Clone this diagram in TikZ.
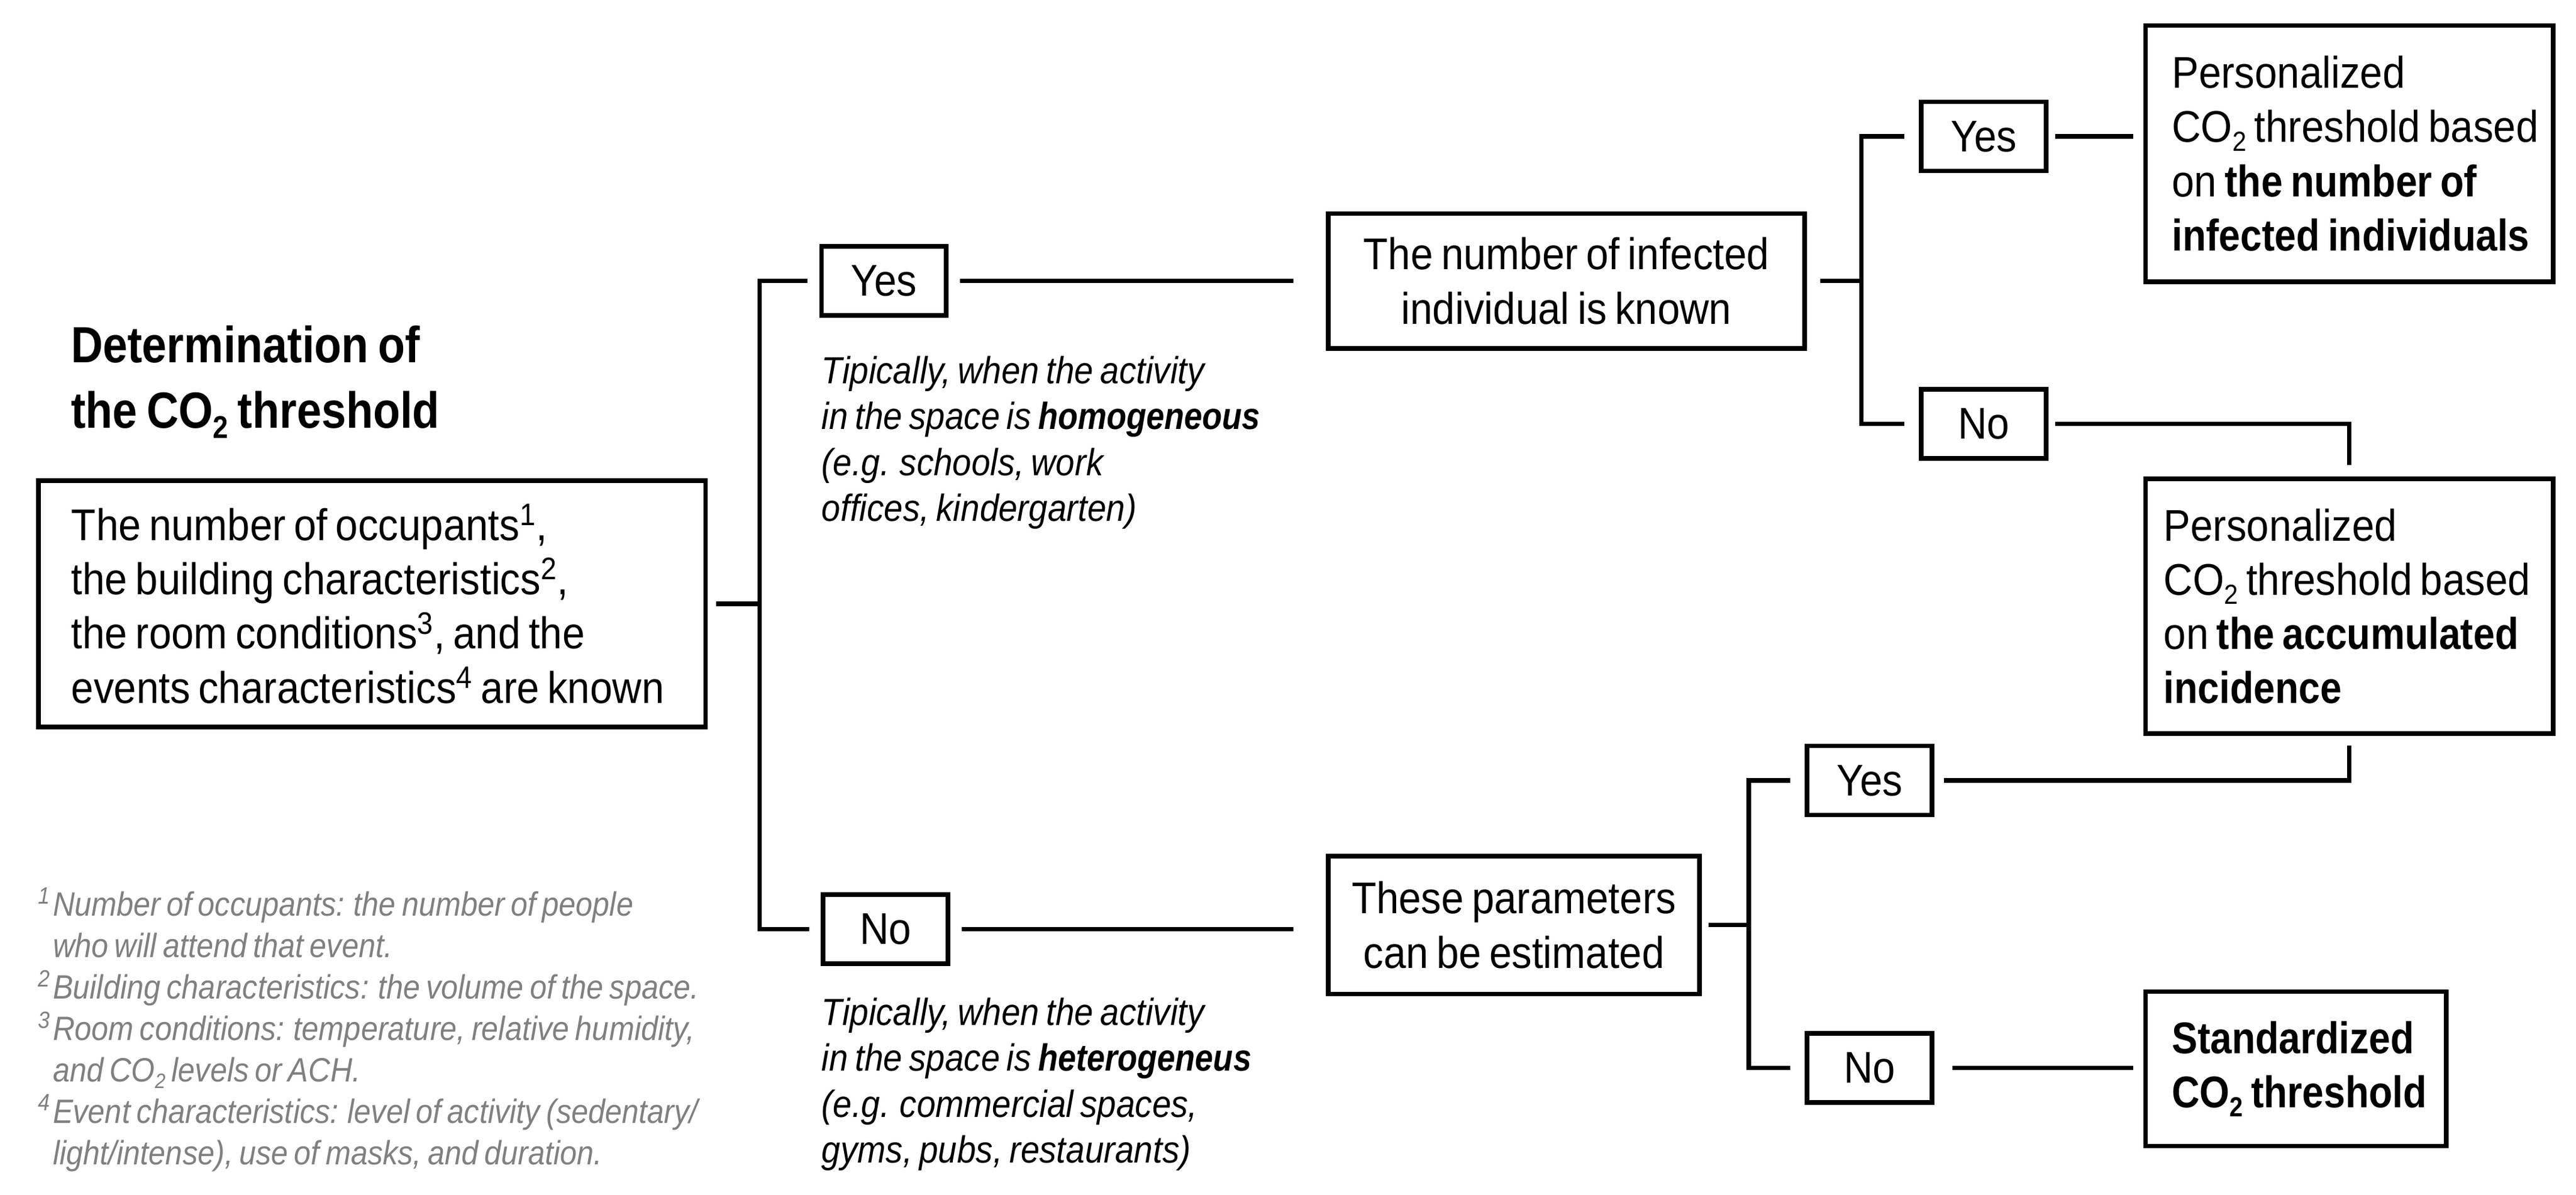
\documentclass[tikz,border=0pt]{standalone}
\usepackage{fontspec}
\setmainfont{Liberation Sans}[UprightFeatures={FakeStretch=0.91},BoldFeatures={FakeStretch=0.87},ItalicFeatures={FakeStretch=0.9},BoldItalicFeatures={FakeStretch=0.86}]
\definecolor{fngray}{RGB}{128,128,128}
\newcommand{\cotwo}{CO\raisebox{-0.38ex}{\fontsize{0.62em}{0.62em}\selectfont 2}}
\newcommand{\fnm}[1]{\makebox[9pt][l]{\textsuperscript{#1}}}
\newcommand{\tightsp}{\spaceskip=0.72\fontdimen2\font plus 0.1\fontdimen2\font\relax}
\newcommand{\mline}[1]{\mbox{\tightsp #1}}
\newcommand{\fbody}{\fontsize{27}{33}\selectfont\tightsp}
\newcommand{\ftitle}{\fontsize{31}{40}\selectfont\tightsp}
\newcommand{\fnote}{\fontsize{23}{28}\selectfont\tightsp}
\newcommand{\ffoot}{\fontsize{20.5}{25.2}\selectfont\tightsp}
\begin{document}
\begin{tikzpicture}[x=1pt,y=-1pt,
  box/.style={draw, line width=2.8pt, inner sep=0pt, font=\fbody},
  yn/.style={box, minimum width=76pt, minimum height=42pt},
  conn/.style={line width=2.8pt},
  ann/.style={inner sep=0pt, anchor=north west, align=left, font=\fnote\itshape}]
\useasboundingbox (0,0) rectangle (1568,727.3);

% title
\node[inner sep=0pt, anchor=north west, align=left, font=\ftitle\bfseries] (title) at (43,198)
  {Determination of\\ the \cotwo{} threshold};

% main box
\node[box, minimum width=406pt, minimum height=150pt, text width=366pt, inner xsep=20pt, align=left] (m) at (226.5,367.5)
  {\mline{The number of occupants\textsuperscript{1},}\\ \mline{the building characteristics\textsuperscript{2},}\\ \mline{the room conditions\textsuperscript{3}, and the}\\ \mline{events characteristics\textsuperscript{4} are known}};

% footnotes
\node[inner sep=0pt, anchor=north west, align=left, font=\ffoot\itshape, text=fngray] (fn) at (23,540)
  {\fnm{1}Number of occupants: the number of people\\
   \fnm{}who will attend that event.\\
   \fnm{2}Building characteristics: the volume of the space.\\
   \fnm{3}Room conditions: temperature, relative humidity,\\
   \fnm{}and \cotwo{} levels or ACH.\\
   \fnm{4}Event characteristics: level of activity (sedentary/\\
   \fnm{}light/intense), use of masks, and duration.};

% first level
\node[yn] (yes1) at (538,171) {Yes};
\node[yn] (no1) at (539,565.5) {No};
\node[ann] (ann1) at (500,216.5)
  {Tipically, when the activity\\ in the space is \textbf{homogeneous}\\ (e.g. schools, work\\ offices, kindergarten)};
\node[ann] (ann2) at (500,607)
  {Tipically, when the activity\\ in the space is \textbf{heterogeneus}\\ (e.g. commercial spaces,\\ gyms, pubs, restaurants)};

% second level
\node[box, minimum width=290pt, minimum height=82pt, align=center] (inf) at (953.5,171)
  {The number of infected\\ individual is known};
\node[box, minimum width=226pt, minimum height=84pt, align=center] (est) at (921.5,563)
  {These parameters\\ can be estimated};

\node[yn] (yes2) at (1207.5,83) {Yes};
\node[yn] (no2) at (1207.5,258) {No};
\node[yn] (yes3) at (1138,475) {Yes};
\node[yn] (no3) at (1138,650) {No};

% results
\node[box, minimum height=156pt, text width=216pt, inner xsep=16pt, align=left] (pers1) at (1430,93.5)
  {\mline{Personalized}\\ \mline{\cotwo{} threshold based}\\ \mline{on \textbf{the number of}}\\ \mline{\textbf{infected individuals}}};
\node[box, minimum height=155pt, text width=226pt, inner xsep=11pt, align=left] (pers2) at (1430,369)
  {\mline{Personalized}\\ \mline{\cotwo{} threshold based}\\ \mline{on \textbf{the accumulated}}\\ \mline{\textbf{incidence}}};
\node[box, minimum height=94pt, text width=151pt, inner xsep=16pt, align=left] (std) at (1397.5,650.5)
  {\mline{\textbf{Standardized}}\\ \mline{\textbf{\cotwo{} threshold}}};

% spines
\coordinate (sp1) at (462.4,367.5);
\coordinate (sp2) at (1133,171);
\coordinate (sp3) at (1064.5,563);

% connectors
\draw[conn, shorten <=5pt] (m.east) -- (m.east -| sp1);
\draw[conn] ([xshift=-7pt]yes1.west) -| (sp1) |- ([xshift=-7pt]no1.west);
\draw[conn, shorten <=7pt, shorten >=20pt] (yes1.east) -- (yes1.east -| inf.west);
\draw[conn, shorten <=7pt, shorten >=20pt] (no1.east) -- (no1.east -| est.west);

\draw[conn, shorten <=8pt] (inf.east) -- (inf.east -| sp2);
\draw[conn] ([xshift=-9pt]yes2.west) -| (sp2) |- ([xshift=-9pt]no2.west);
\draw[conn, shorten <=4pt, shorten >=6pt] (yes2.east) -- (yes2.east -| pers1.west);
\draw[conn, shorten <=4pt, shorten >=7pt] (no2.east) -| (pers2.north);

\draw[conn, shorten <=4pt] (est.east) -- (est.east -| sp3);
\draw[conn] ([xshift=-9pt]yes3.west) -| (sp3) |- ([xshift=-9pt]no3.west);
\draw[conn, shorten <=6pt, shorten >=6pt] (yes3.east) -| (pers2.south);
\draw[conn, shorten <=11pt, shorten >=6pt] (no3.east) -- (no3.east -| std.west);
\end{tikzpicture}
\end{document}
